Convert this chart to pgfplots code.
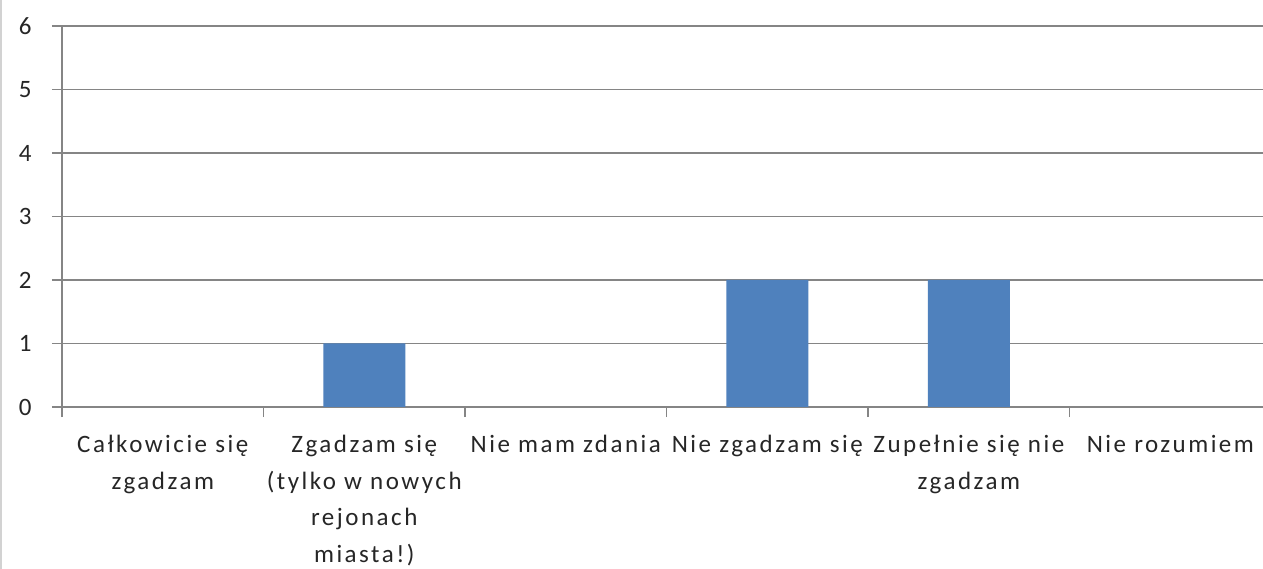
\documentclass[border=0pt]{standalone}
\usepackage{fontspec}
\setmainfont{Carlito}[LetterSpace=10]
\usepackage{pgfplots}
\pgfplotsset{compat=1.18}
\definecolor{barblue}{HTML}{4F81BD}
\definecolor{gridgray}{HTML}{858585}
\definecolor{txt}{HTML}{262626}
\begin{document}
\fontsize{25bp}{36bp}\selectfont
\begin{tikzpicture}
\useasboundingbox (0,0) rectangle (1263bp,569bp);
\fill[white] (0,0) rectangle (1263bp,569bp);
\draw[gray!35, line width=1.5bp] (0.75bp,0) -- (0.75bp,569bp);
\begin{axis}[
  at={(62bp,162bp)}, anchor=south west,
  width=1201bp, height=381bp, scale only axis,
  xmin=-0.5, xmax=5.46, ymin=0, ymax=6,
  axis x line*=bottom, axis y line*=left,
  axis line style={gridgray, line width=1.6bp, -},
  ytick={0,...,6}, ymajorgrids,
  grid style={gridgray, line width=1.6bp},
  y tick style={gridgray, line width=1.6bp},
  ytick align=outside, major tick length=10bp,
  xtick={0,...,5},
  xticklabels={{Całkowicie się\\zgadzam},{Zgadzam się\\(tylko w nowych\\rejonach\\miasta!)},{Nie mam zdania},{Nie zgadzam się},{Zupełnie się nie\\zgadzam},{Nie rozumiem}},
  x tick style={draw=none},
  extra x ticks={-0.5,0.5,1.5,2.5,3.5,4.5},
  extra x tick labels={},
  extra x tick style={xtick align=outside, x tick style={draw=gridgray, line width=1.6bp}, xmajorgrids=false},
  /pgf/number format/assume math mode=true,
  tick label style={font=\fontsize{25bp}{36.5bp}\selectfont, text=txt},
  xticklabel style={align=center, anchor=north, yshift=-20bp},
  yticklabel style={xshift=-12bp},
]
\addplot[ybar, fill=barblue, draw=none, bar width=82bp] coordinates {
  (0,0) (1,1) (2,0) (3,2) (4,2) (5,0)};
\end{axis}
\end{tikzpicture}
\end{document}
